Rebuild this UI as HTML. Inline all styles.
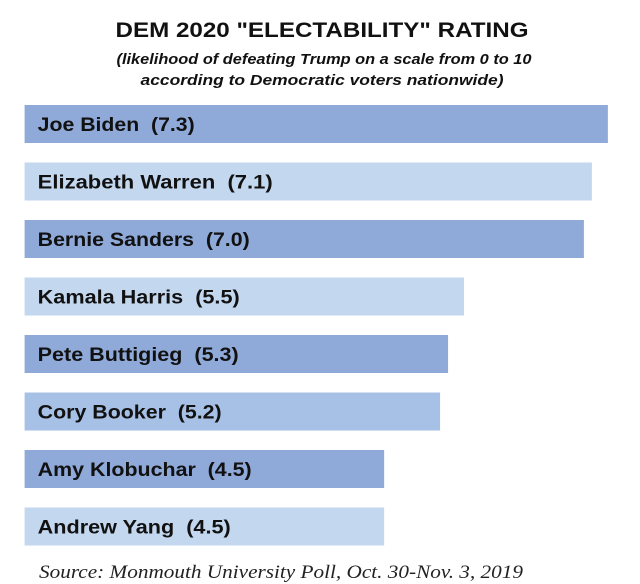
<!DOCTYPE html>
<html><head><meta charset="utf-8"><style>
html,body{margin:0;padding:0;background:#fff;}
svg{display:block;}
</style></head><body>
<svg id="chart" width="640" height="584" viewBox="0 0 640 584" xmlns="http://www.w3.org/2000/svg">
<text x="322" y="37" text-anchor="middle" font-family="Liberation Sans, sans-serif" font-weight="bold" font-size="21" textLength="413" lengthAdjust="spacingAndGlyphs" fill="#111">DEM 2020 "ELECTABILITY" RATING</text>
<text x="324" y="64" text-anchor="middle" font-family="Liberation Sans, sans-serif" font-weight="bold" font-style="italic" font-size="15" textLength="415" lengthAdjust="spacingAndGlyphs" fill="#111">(likelihood of defeating Trump on a scale from 0 to 10</text>
<text x="322" y="85" text-anchor="middle" font-family="Liberation Sans, sans-serif" font-weight="bold" font-style="italic" font-size="15" textLength="363" lengthAdjust="spacingAndGlyphs" fill="#111">according to Democratic voters nationwide)</text>
<g id="bars"></g>
<text x="39" y="578" font-family="Liberation Serif, serif" font-style="italic" font-size="19" textLength="484" lengthAdjust="spacingAndGlyphs" fill="#222">Source:  Monmouth University Poll, Oct. 30-Nov. 3, 2019</text>
</svg>
<script>
const candidates = ["Joe Biden","Elizabeth Warren","Bernie Sanders","Kamala Harris","Pete Buttigieg","Cory Booker","Amy Klobuchar","Andrew Yang"];
const ratings = [7.3,7.1,7.0,5.5,5.3,5.2,4.5,4.5];
const valueLabels = ["7.3","7.1","7.0","5.5","5.3","5.2","4.5","4.5"];
const barColors = ["#8fa9d9","#c3d7ef","#8fa9d9","#c3d7ef","#8fa9d9","#a7c1e6","#8fa9d9","#c3d7ef"];
const labelWidths = [157,235,212,202,201,184,214,193];

const x0 = 24.6, pxPerUnit = 79.9;
const xScale = v => x0 + v * pxPerUnit;
const yTop = 105, pitch = 57.5, barH = 38;
const yScale = i => yTop + i * pitch;

const g = document.getElementById('bars');
const NS = 'http://www.w3.org/2000/svg';
candidates.forEach((name, i) => {
  const r = document.createElementNS(NS, 'rect');
  
  
  r.setAttribute('x', x0);
  r.setAttribute('y', yScale(i));
  r.setAttribute('width', xScale(ratings[i]) - x0);
  r.setAttribute('height', barH);
  r.setAttribute('fill', barColors[i]);
  g.appendChild(r);
  const t = document.createElementNS(NS, 'text');
  
  
  t.setAttribute('x', 37.7);
  t.setAttribute('y', yScale(i) + barH / 2 + 7);
  t.setAttribute('font-family', 'Liberation Sans, sans-serif');
  t.setAttribute('font-weight', 'bold');
  t.setAttribute('font-size', '19.5');
  t.setAttribute('fill', '#111');
  t.setAttribute('textLength', labelWidths[i]);
  t.setAttribute('lengthAdjust', 'spacingAndGlyphs');
  t.textContent = name + '\u00a0\u00a0(' + valueLabels[i] + ')';
  g.appendChild(t);
});
</script>
</body></html>
